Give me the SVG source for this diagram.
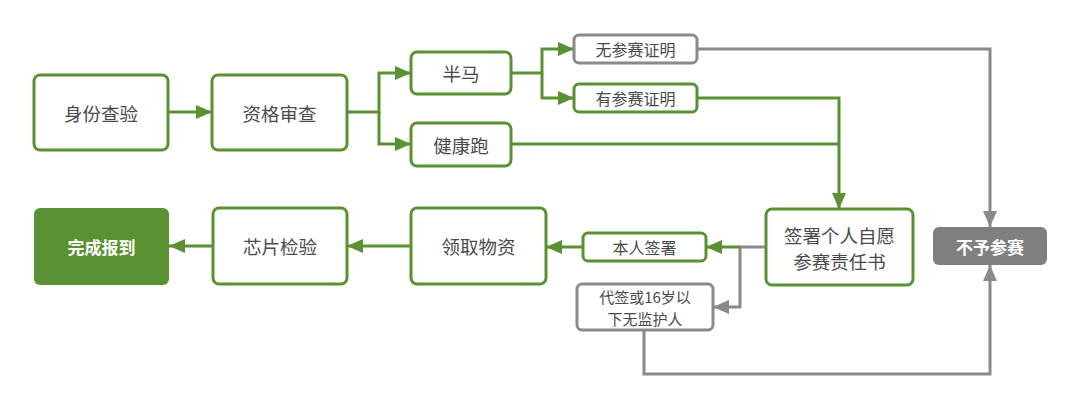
<svg xmlns="http://www.w3.org/2000/svg" width="1080" height="407" viewBox="0 0 1080 407">
<defs>
<marker id="ag" markerUnits="userSpaceOnUse" markerWidth="18" markerHeight="14" refX="16" refY="7" orient="auto"><path d="M0,0 L16,7 L0,14 z" fill="#5a9132"/></marker>
<marker id="ay" markerUnits="userSpaceOnUse" markerWidth="18" markerHeight="14" refX="16" refY="7" orient="auto"><path d="M0,0 L16,7 L0,14 z" fill="#8a8a8a"/></marker>
</defs>
<style>
.n{fill:#fff;stroke:#5a9132;stroke-width:3}
.g{fill:#fff;stroke:#8a8a8a;stroke-width:3}
.t{font-family:"Noto Sans CJK SC",sans-serif;fill:#4a4a4a;text-anchor:middle;dominant-baseline:central}
.big{font-size:18.5px}
.sm{font-size:16px}
.xs{font-size:15px}
.w{fill:#fff;font-weight:bold;font-size:17px}
.cg{fill:none;stroke:#5a9132;stroke-width:3}
.cy{fill:none;stroke:#8a8a8a;stroke-width:3}
</style>
<rect width="1080" height="407" fill="#fff"/>
<g id="connectors">
<path class="cg" d="M168,112 H212" marker-end="url(#ag)"/>
<path class="cg" d="M347,112 H379 V73 H411" marker-end="url(#ag)"/>
<path class="cg" d="M379,112 V144 H411" marker-end="url(#ag)"/>
<path class="cg" d="M511,73 H542 V49 H574" marker-end="url(#ag)"/>
<path class="cg" d="M542,73 V98 H574" marker-end="url(#ag)"/>
<path class="cy" d="M697,49 H990 V227" marker-end="url(#ay)"/>
<path class="cg" d="M511,144 H839"/>
<path class="cg" d="M697,98 H839 V209" marker-end="url(#ag)"/>
<path class="cy" d="M766,247 H740 V307 H713" marker-end="url(#ay)"/>
<path class="cg" d="M740,247 H706" marker-end="url(#ag)"/>
<path class="cg" d="M583,247 H546" marker-end="url(#ag)"/>
<path class="cg" d="M411,246 H347" marker-end="url(#ag)"/>
<path class="cg" d="M213,246 H169" marker-end="url(#ag)"/>
<path class="cy" d="M644,330 V374 H990 V265" marker-end="url(#ay)"/>
</g>
<g id="n1"><rect class="n" x="34" y="75" width="134" height="75" rx="6"/><text class="t big" x="101" y="112.5">身份查验</text></g>
<g id="n2"><rect class="n" x="212" y="75" width="135" height="75" rx="6"/><text class="t big" x="279.5" y="112.5">资格审查</text></g>
<g id="n3"><rect class="n" x="411" y="52" width="100" height="42" rx="6"/><text class="t big" x="461" y="73">半马</text></g>
<g id="n4"><rect class="n" x="411" y="123" width="100" height="43" rx="6"/><text class="t big" x="461" y="144.5">健康跑</text></g>
<g id="n5"><rect class="g" x="574" y="35" width="123" height="28" rx="5"/><text class="t sm" x="635.5" y="49">无参赛证明</text></g>
<g id="n6"><rect class="n" x="574" y="84" width="123" height="28" rx="5"/><text class="t sm" x="635.5" y="98">有参赛证明</text></g>
<g id="n7"><rect class="n" x="766" y="209" width="147" height="76" rx="6"/><text class="t big" x="839.5" y="234.5">签署个人自愿</text><text class="t big" x="839.5" y="260.5">参赛责任书</text></g>
<g id="n8"><rect x="933" y="227" width="114" height="38" rx="6" fill="#7f7f7f"/><text class="t w" x="990" y="246">不予参赛</text></g>
<g id="n9"><rect class="n" x="583" y="233" width="123" height="28" rx="5"/><text class="t sm" x="644.5" y="247">本人签署</text></g>
<g id="n10"><rect class="g" x="577" y="284" width="136" height="46" rx="5"/><text class="t xs" x="645" y="296">代签或16岁以</text><text class="t xs" x="645" y="318">下无监护人</text></g>
<g id="n11"><rect class="n" x="411" y="208" width="135" height="76" rx="6"/><text class="t big" x="478.5" y="246">领取物资</text></g>
<g id="n12"><rect class="n" x="213" y="208" width="134" height="76" rx="6"/><text class="t big" x="280" y="246">芯片检验</text></g>
<g id="n13"><rect x="34" y="208" width="135" height="77" rx="6" fill="#5a9132"/><text class="t w" x="101.5" y="246.5">完成报到</text></g>
</svg>
